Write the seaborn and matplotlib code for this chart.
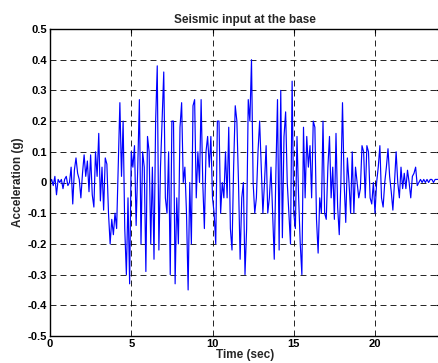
import numpy as np
import pandas as pd
import matplotlib
matplotlib.use("Agg")
import matplotlib.pyplot as plt
import seaborn as sns

dt = 0.1
accel = [
    0.00, 0.01, -0.01, 0.02, -0.04, 0.01, 0.00, 0.01, -0.02, 0.01,
    0.02, -0.01, 0.00, 0.05, -0.07, 0.04, 0.08, 0.03, 0.01, -0.05,
    0.03, 0.09, 0.02, 0.07, -0.03, 0.09, -0.04, -0.08, 0.10, 0.02,
    0.16, -0.06, 0.05, -0.09, 0.08, 0.06, -0.10, -0.20, -0.12, -0.17,
    -0.10, -0.15, 0.05, 0.26, 0.02, 0.20, -0.15, -0.30, -0.05, -0.33,
    0.10, 0.05, 0.12, -0.14, 0.05, 0.27, -0.20, 0.10, 0.05, -0.29,
    0.15, 0.10, -0.20, 0.05, -0.25, 0.20, 0.38, -0.22, 0.05, 0.20,
    0.36, -0.05, -0.10, 0.10, -0.30, 0.20, 0.20, -0.33, -0.05, -0.20,
    0.18, 0.26, 0.00, 0.05, -0.10, -0.35, 0.00, -0.20, 0.25, 0.27,
    -0.05, 0.10, 0.00, 0.27, 0.00, -0.15, 0.10, 0.15, 0.05, 0.15,
    -0.05, -0.10, -0.20, 0.20, 0.20, -0.10, 0.00, -0.05, 0.10, -0.05,
    0.18, -0.15, -0.22, 0.05, 0.25, 0.20, 0.00, -0.25, -0.05, 0.00,
    -0.30, -0.15, 0.27, 0.20, 0.40, 0.00, -0.10, -0.05, 0.10, 0.20,
    0.05, -0.10, 0.00, 0.12, -0.10, -0.05, 0.05, -0.10, -0.25, 0.03,
    0.27, -0.22, 0.30, -0.18, 0.15, 0.23, 0.00, -0.10, -0.20, 0.33,
    -0.10, -0.15, 0.15, -0.05, -0.20, -0.30, 0.18, -0.05, 0.15, 0.05,
    0.12, -0.05, 0.20, 0.18, -0.12, -0.23, -0.05, -0.10, 0.20, -0.10,
    -0.12, 0.05, 0.15, -0.05, 0.05, -0.12, 0.16, -0.08, -0.17, 0.00,
    0.26, 0.00, -0.13, 0.08, 0.00, -0.10, 0.10, -0.10, 0.05, 0.00,
    -0.05, -0.02, 0.12, 0.10, -0.05, 0.12, 0.10, -0.05, -0.07, 0.00,
    -0.10, 0.00, 0.05, 0.12, -0.05, -0.08, 0.00, 0.05, 0.11, 0.02,
    -0.03, -0.09, 0.00, 0.10, 0.00, -0.05, 0.05, -0.02, 0.03, -0.02,
    0.04, 0.00, -0.05, 0.02, 0.03, 0.05, -0.01, 0.00, 0.01, 0.00,
    0.01, 0.00, 0.01, 0.00, 0.01, 0.01, 0.00, 0.01, 0.01, 0.01,
]
time = np.arange(len(accel)) * dt

x_ticks = [0, 5, 10, 15, 20]
y_ticks = [-0.5, -0.4, -0.3, -0.2, -0.1, 0, 0.1, 0.2, 0.3, 0.4, 0.5]
y_tick_labels = ["-0.5", "-0.4", "-0.3", "-0.2", "-0.1", "0", "0.1", "0.2", "0.3", "0.4", "0.5"]

sns.set_style("white")
plt.rcParams["font.family"] = ["Liberation Sans", "DejaVu Sans"]
plt.rcParams["font.weight"] = "bold"
plt.rcParams["lines.scale_dashes"] = False

df = pd.DataFrame({"Time (sec)": time, "Acceleration (g)": accel})

fig = plt.figure(figsize=(4.38, 3.63), dpi=100)
ax = fig.add_axes([50 / 438, 1 - 336 / 363, 390 / 438, 307 / 363])
sns.lineplot(data=df, x="Time (sec)", y="Acceleration (g)", ax=ax,
             color="#0000ff", linewidth=0.85, estimator=None)

ax.set_xlim(0, 24)
ax.set_ylim(-0.5, 0.5)
ax.set_xticks(x_ticks)
ax.set_xticklabels([str(v) for v in x_ticks])
ax.set_yticks(y_ticks)
ax.set_yticklabels(y_tick_labels)
ax.grid(True, color="black", linestyle=(0, (4.3, 2.9)), linewidth=0.6)
ax.tick_params(direction="in", length=3, width=0.8, top=True, right=True,
               labelsize=8, pad=2, colors="black")
for lbl in ax.get_xticklabels() + ax.get_yticklabels():
    lbl.set_fontweight("bold")
for s in ax.spines.values():
    s.set_color("black")
    s.set_linewidth(1.0)

ax.set_title("Seismic input at the base", fontsize=8.5, fontweight="bold", pad=4)
ax.set_xlabel("Time (sec)", fontsize=8.5, fontweight="bold", labelpad=0)
ax.set_ylabel("Acceleration (g)", fontsize=8.5, fontweight="bold", labelpad=3)

fig.savefig("out.png", dpi=100)
